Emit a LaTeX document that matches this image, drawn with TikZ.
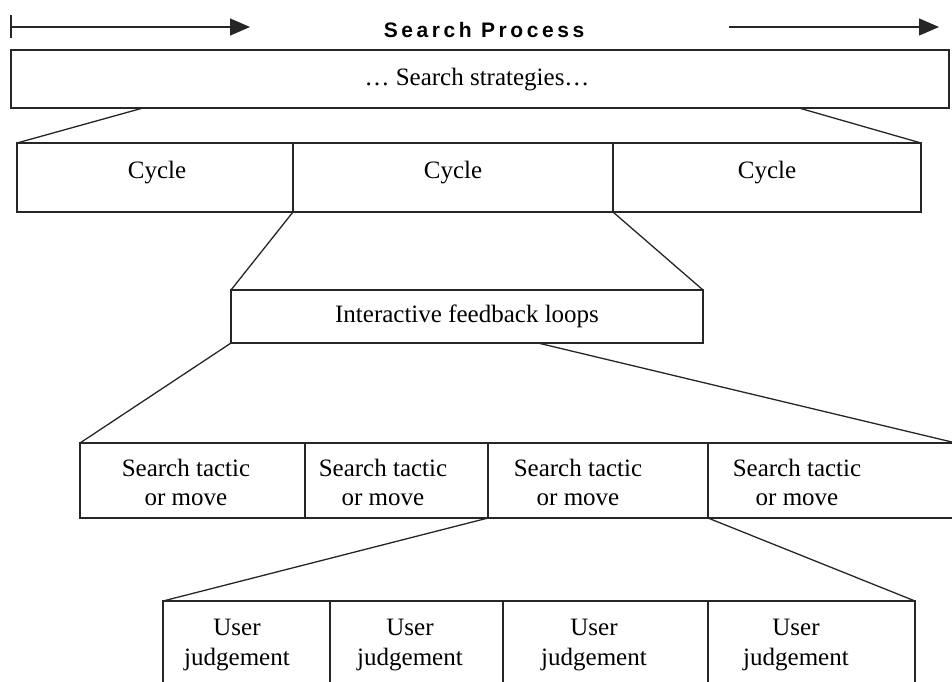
\documentclass[tikz,border=0pt]{standalone}
\usepackage{fontspec}
\setmainfont{Liberation Serif}
\newfontfamily\headfont[LetterSpace=17]{Liberation Sans}
\usetikzlibrary{arrows.meta}
\tikzset{
  cell/.style 2 args={draw=black!85, rectangle, minimum width=#1, minimum height=#2,
    anchor=north west, inner sep=0pt, outer sep=0pt},
  txt/.style={inner sep=0pt, font=\fontsize{25}{29}\selectfont, align=center, anchor=base},
  utxt/.style={txt, font=\fontsize{25}{30}\selectfont},
  head/.style={inner sep=0pt, font=\headfont\bfseries\fontsize{21}{25}\selectfont, anchor=base},
  link/.style={draw=black!85},
  flow/.style={draw=black!85, -{Triangle[length=20pt,width=17pt]}}
}
\begin{document}
\begin{tikzpicture}[x=1pt,y=-1pt,line width=1.3pt]
\useasboundingbox (0,0) rectangle (952,681);
\clip (0,0) rectangle (952,681);
% header
\node[head] (proc) at (484,37) {Search Process};
\coordinate (a1s) at (11,27);
\coordinate (a1e) at (250,27);
\coordinate (a2s) at (729,27);
\coordinate (a2e) at (939,27);
\draw[flow] (a1s) -- (a1e);
\draw[draw=black!85] ([yshift=-11pt]a1s) -- ([yshift=12pt]a1s);
\draw[flow] (a2s) -- (a2e);
% strategies
\node[cell={938pt}{58pt}] (top) at (11,50) {};
\node[txt] (topt) at (477,85) {\ldots{} Search strategies\ldots};
% cycles
\node[cell={276pt}{69pt}] (c1) at (17,143) {};
\node[cell={320pt}{69pt}] (c2) at (293,143) {};
\node[cell={308pt}{69pt}] (c3) at (613,143) {};
\node[txt] (c1t) at (157,178) {Cycle};
\node[txt] (c2t) at (453,178) {Cycle};
\node[txt] (c3t) at (767,178) {Cycle};
\coordinate (tl) at (143,108);
\coordinate (tr) at (799,108);
\draw[link] (tl) -- (c1.north west);
\draw[link] (tr) -- (c3.north east);
% feedback loops
\node[cell={472pt}{53pt}] (fb) at (231,290) {};
\node[txt] (fbt) at (467,322) {Interactive feedback loops};
\draw[link] (c2.south west) -- (fb.north west);
\draw[link] (c2.south east) -- (fb.north east);
% tactics
\node[cell={225pt}{75pt}] (s1) at (80,443) {};
\node[cell={183pt}{75pt}] (s2) at (305,443) {};
\node[cell={220pt}{75pt}] (s3) at (488,443) {};
\node[cell={248pt}{75pt}] (s4) at (708,443) {};
\node[txt] (s1t) at (186,505) {Search tactic\\or move};
\node[txt] (s2t) at (383,505) {Search tactic\\or move};
\node[txt] (s3t) at (578,505) {Search tactic\\or move};
\node[txt] (s4t) at (797,505) {Search tactic\\or move};
\coordinate (fbr) at (538,343);
\draw[link] (fb.south west) -- (s1.north west);
\draw[link] (fbr) -- (s4.north east);
% user judgements
\node[cell={167pt}{100pt}] (u1) at (163,601) {};
\node[cell={173pt}{100pt}] (u2) at (330,601) {};
\node[cell={205pt}{100pt}] (u3) at (503,601) {};
\node[cell={207pt}{100pt}] (u4) at (708,601) {};
\node[utxt] (u1t) at (237,665) {User\\judgement};
\node[utxt] (u2t) at (410,665) {User\\judgement};
\node[utxt] (u3t) at (594,665) {User\\judgement};
\node[utxt] (u4t) at (796,665) {User\\judgement};
\draw[link] (s3.south west) -- (u1.north west);
\draw[link] (s4.south west) -- (u4.north east);
\end{tikzpicture}
\end{document}
